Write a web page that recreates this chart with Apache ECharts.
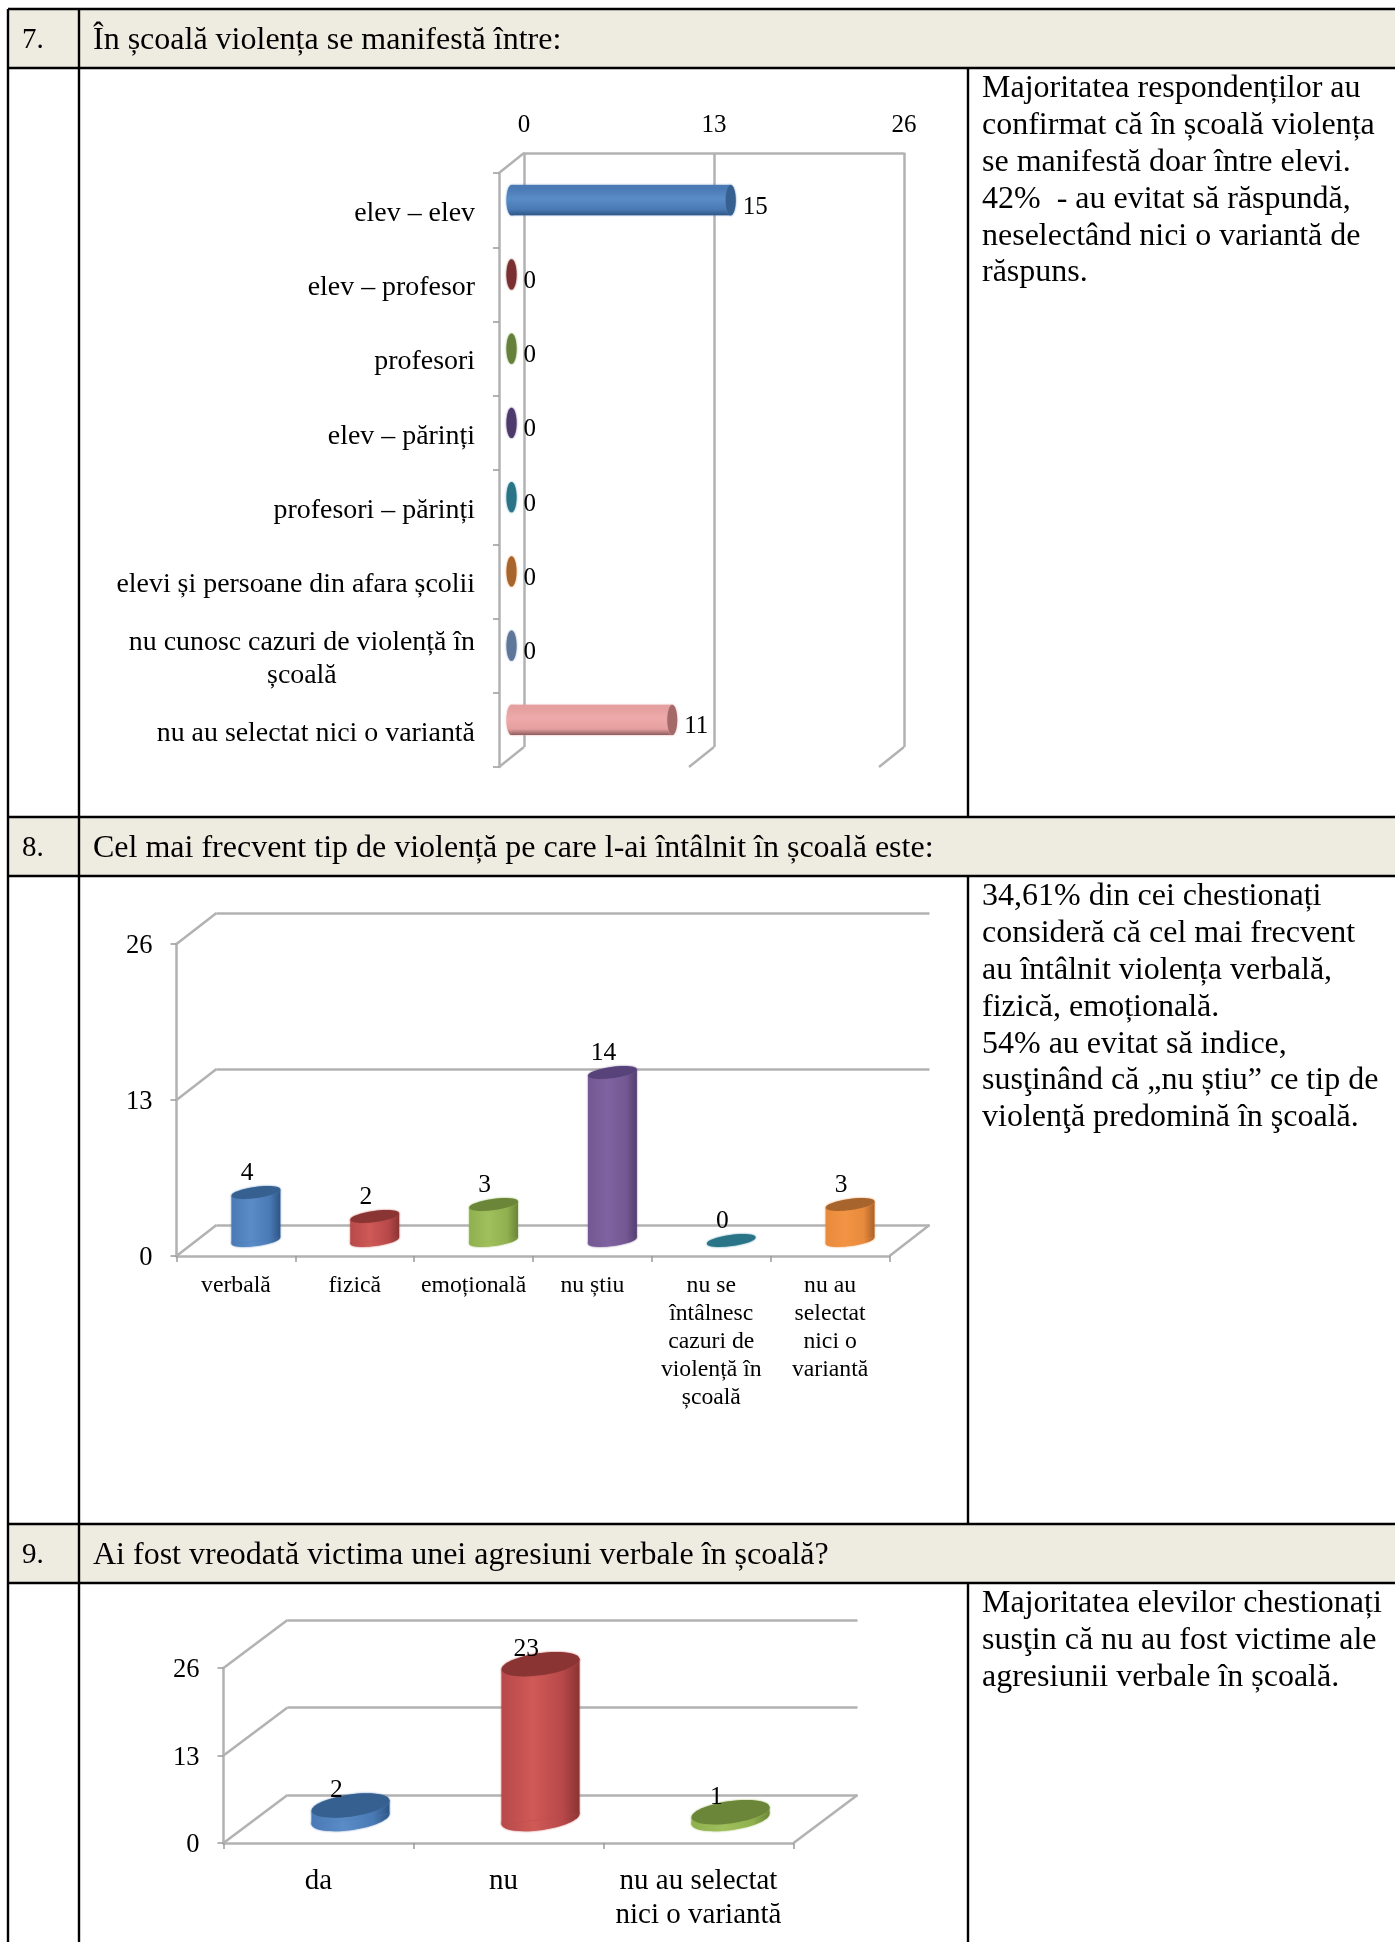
<!DOCTYPE html>
<html><head><meta charset="utf-8">
<style>html,body{margin:0;padding:0;background:#fff}#c{position:absolute;left:0;top:0;width:1395px;height:1942px}</style>
<script src="https://cdn.jsdelivr.net/npm/echarts@6/dist/echarts.min.js"></script>
</head><body><div id="c"></div>
<script>
// ---------- data ----------
const valueTicks = [0, 13, 26];

const q7Categories = ['elev – elev', 'elev – profesor', 'profesori', 'elev – părinți', 'profesori – părinți', 'elevi și persoane din afara școlii', 'nu cunosc cazuri de violență în\nșcoală', 'nu au selectat nici o variantă'];
const q7Values = [15, 0, 0, 0, 0, 0, 0, 11];

const q8Categories = ['verbală', 'fizică', 'emoțională', 'nu știu', 'nu se\nîntâlnesc\ncazuri de\nviolență în\nșcoală', 'nu au\nselectat\nnici o\nvariantă'];
const q8Values = [4, 2, 3, 14, 0, 3];

const q9Categories = ['da', 'nu', 'nu au selectat\nnici o variantă'];
const q9Values = [2, 23, 1];

const headers = [
  ['7.', 'În școală violența se manifestă între:'],
  ['8.', 'Cel mai frecvent tip de violență pe care l-ai întâlnit în școală este:'],
  ['9.', 'Ai fost vreodată victima unei agresiuni verbale în școală?']
];
const notes = [
  ['Majoritatea respondenților au', 'confirmat că în școală violența', 'se manifestă doar între elevi.', '42%  - au evitat să răspundă,', 'neselectând nici o variantă de', 'răspuns.'],
  ['34,61% din cei chestionați', 'consideră că cel mai frecvent', 'au întâlnit violența verbală,', 'fizică, emoțională.', '54% au evitat să indice,', 'susţinând că „nu știu” ce tip de', 'violenţă predomină în şcoală.'],
  ['Majoritatea elevilor chestionați', 'susţin că nu au fost victime ale', 'agresiunii verbale în școală.']
];

// ---------- colours: [light, mid, dark, cap] ----------
const blue = ['#5a8cc8', '#4a7ab5', '#2f5585', '#35608f'];
const red = ['#cf5a56', '#b8484a', '#8a3432', '#8a3533'];
const green = ['#9fc05c', '#8fb04e', '#6a8438', '#6b8539'];
const purple = ['#7f62a0', '#735893', '#533f70', '#57427a'];
const teal = ['#3a93aa', '#31859c', '#226478', '#2a7488'];
const orange = ['#f29443', '#e88a3c', '#a9622a', '#a8642d'];
const slate = ['#7f97bd', '#6d86ad', '#4f6690', '#5d7699'];
const pink = ['#eeaaaa', '#e59f9f', '#8c5c5c', '#a46a6a'];

const q7Colors = [blue, ['#8c3a38', '#8c3a38', '#6d2a2a', '#7a3030'], ['#6e8a3a', '#6e8a3a', '#566d2c', '#64803a'], ['#57427a', '#57427a', '#42315f', '#4d3a6d'], teal, orange, slate, pink];
const q8Colors = [blue, red, green, purple, teal, orange];
const q9Colors = [blue, red, green];

// ---------- layout ----------
const SERIF = '"Liberation Serif","Times New Roman",serif';
const LINE = '#b2b2b2';
const charts = [
  { horizontal: true, back: { left: 524, top: 153, width: 380, height: 594 }, shift: [-25, 20], categories: q7Categories, values: q7Values, colors: q7Colors, catFont: 27.9, catLine: 33, catPad: [7, 0, 0, 0], numFont: 25, catMargin: 24, tilt: 0, ratio: 0.33 },
  { horizontal: false, back: { left: 216.5, top: 913, width: 713, height: 312 }, shift: [-40, 31], categories: q8Categories, values: q8Values, colors: q8Colors, catFont: 23.7, catLine: 28, catPad: [0, 0, 0, 0], numFont: 26.5, catMargin: 16, tilt: 0.13, ratio: 0.23 },
  { horizontal: false, back: { left: 287.5, top: 1620, width: 570, height: 175 }, shift: [-64, 48], categories: q9Categories, values: q9Values, colors: q9Colors, catFont: 29, catLine: 34, catPad: [0, 0, 0, 0], numFont: 26.5, catMargin: 21, tilt: 0.14, ratio: 0.28, nudged: ['nu'] }
];

const grid = [], xAxis = [], yAxis = [], series = [];
const lineStyle = { color: LINE, width: 2.5 };

charts.forEach(function (ch) {
  const b = ch.back, gBack = grid.length, gFront = gBack + 1;
  grid.push({ left: b.left, top: b.top, width: b.width, height: b.height, containLabel: false });
  grid.push({ left: b.left + ch.shift[0], top: b.top + ch.shift[1], width: b.width, height: b.height, containLabel: false });

  const valBack = { type: 'value', min: 0, max: 26, interval: 13, gridIndex: gBack,
    splitLine: { show: true, lineStyle: lineStyle }, axisTick: { show: false }, axisLine: { show: false }, axisLabel: { show: false } };
  const catBack = { type: 'category', data: ch.categories, gridIndex: gBack, show: false, inverse: ch.horizontal };
  const tokenStyle = { align: 'center', color: '#000', fontFamily: SERIF, fontSize: ch.catFont, lineHeight: ch.catLine };
  const catFront = { type: 'category', data: ch.categories, gridIndex: gFront, inverse: ch.horizontal,
    axisLine: { show: true, lineStyle: lineStyle }, axisTick: { show: true, length: 6, lineStyle: { color: '#9a9a9a', width: 1.5 } },
    splitLine: { show: false },
    axisLabel: { interval: 0, hideOverlap: false, color: '#000', fontFamily: SERIF, fontSize: ch.catFont, lineHeight: ch.catLine, margin: ch.catMargin, padding: ch.catPad,
      formatter: function (v) {
        const tag = (ch.nudged || []).indexOf(v) >= 0 ? 'n' : 'c';
        return v.split('\n').map(function (l) { return '{' + tag + '|' + l + '}'; }).join('\n');
      },
      rich: { c: tokenStyle, n: Object.assign({ padding: [0, 10, 0, 0] }, tokenStyle) } } };
  const valFront = { type: 'value', min: 0, max: 26, interval: 13, gridIndex: gFront, splitLine: { show: false } };

  if (ch.horizontal) {
    valBack.position = 'top';
    valBack.axisLine = { show: true, lineStyle: lineStyle };
    valBack.axisLabel = { show: true, color: '#000', fontFamily: SERIF, fontSize: ch.numFont, margin: 15 };
    valFront.show = false;
    catFront.position = 'left';
    xAxis.push(valBack, valFront);
    yAxis.push(catBack, catFront);
  } else {
    valFront.axisLine = { show: true, onZero: false, lineStyle: lineStyle };
    valFront.axisTick = { show: true, length: 6, lineStyle: { color: '#9a9a9a', width: 1.5 } };
    valFront.axisLabel = { color: '#000', fontFamily: SERIF, fontSize: ch.numFont, margin: 24,
      formatter: '{v|{value}}',
      rich: { v: { color: '#000', fontFamily: SERIF, fontSize: ch.numFont, padding: [5, 0, 0, 0] } } };
    xAxis.push(catBack, catFront);
    yAxis.push(valBack, valFront);
  }

  const axisRef = { xAxisIndex: gBack, yAxisIndex: gBack };

  // perspective edges joining the back wall to the front plane
  series.push(Object.assign({
    type: 'custom', coordinateSystem: 'cartesian2d', silent: true, z: 1,
    data: valueTicks.map(function (v) { return ch.horizontal ? [v, 0] : [0, v]; }),
    renderItem: function (params, api) {
      const rect = params.coordSys, v = api.value(ch.horizontal ? 0 : 1);
      const dx = ch.shift[0], dy = ch.shift[1], kids = [];
      const edge = function (x, y) {
        kids.push({ type: 'line', shape: { x1: x, y1: y, x2: x + dx, y2: y + dy }, style: { stroke: LINE, lineWidth: 2.5 } });
      };
      if (ch.horizontal) {
        const x = api.coord([v, 0])[0];
        edge(x, rect.y + rect.height);
        if (v === 0) edge(x, rect.y);
      } else {
        const y = api.coord([0, v])[1];
        edge(rect.x, y);
        if (v === 0) edge(rect.x + rect.width, y);
      }
      return { type: 'group', children: kids };
    }
  }, axisRef));

  // cylinders
  series.push(Object.assign({
    type: 'custom', coordinateSystem: 'cartesian2d', silent: true, z: 3,
    data: ch.values.map(function (v, i) { return ch.horizontal ? [v, i] : [i, v]; }),
    renderItem: function (params, api) {
      const i = params.dataIndex, c = ch.colors[i], val = ch.values[i];
      const mx = ch.shift[0] / 2, my = ch.shift[1] / 2;
      const kids = [];
      const soft = function (s) { return Object.assign({ shadowBlur: 2, shadowColor: c[1] }, s); };
      if (ch.horizontal) {
        const p0 = api.coord([0, i]), p1 = api.coord([val, i]);
        const ry = api.size([0, 1])[1] * 0.205, rx = ry * ch.ratio;
        const x0 = p0[0] + mx, x1 = p1[0] + mx, y = p0[1] + my;
        const fill = { type: 'linear', x: 0, y: 0, x2: 0, y2: 1, colorStops: [
          { offset: 0, color: c[1] }, { offset: 0.12, color: c[1] }, { offset: 0.45, color: c[0] }, { offset: 0.8, color: c[1] }, { offset: 1, color: c[2] }] };
        if (val > 0) {
          kids.push({ type: 'ellipse', shape: { cx: x0, cy: y, rx: rx, ry: ry }, style: soft({ fill: fill }) });
          kids.push({ type: 'rect', shape: { x: x0, y: y - ry, width: x1 - x0, height: ry * 2 }, style: soft({ fill: fill }) });
        }
        kids.push({ type: 'ellipse', shape: { cx: x1, cy: y, rx: rx, ry: ry }, style: soft({ fill: c[3] }) });
        kids.push({ type: 'text', style: { text: String(val), x: x1 + 12, y: y + 7, fill: '#000', font: ch.numFont + 'px ' + SERIF, align: 'left', verticalAlign: 'middle' } });
      } else {
        const p0 = api.coord([i, 0]), p1 = api.coord([i, val]);
        const rx = api.size([1, 0])[0] * 0.207, ry = rx * ch.ratio;
        const x = p0[0] + mx, yb = p0[1] + my, yt = p1[1] + my;
        const hw = rx * Math.cos(ch.tilt), dy = rx * Math.sin(ch.tilt);
        const fill = { type: 'linear', x: 0, y: 0, x2: 1, y2: 0, colorStops: [
          { offset: 0, color: c[1] }, { offset: 0.4, color: c[0] }, { offset: 0.78, color: c[1] }, { offset: 1, color: c[2] }] };
        if (val > 0) {
          kids.push({ type: 'ellipse', x: x, y: yb, rotation: ch.tilt, shape: { cx: 0, cy: 0, rx: rx, ry: ry }, style: soft({ fill: fill }) });
          kids.push({ type: 'polygon', shape: { points: [[x - hw, yt + dy], [x + hw, yt - dy], [x + hw, yb - dy], [x - hw, yb + dy]] }, style: soft({ fill: fill }) });
        }
        kids.push({ type: 'ellipse', x: x, y: yt, rotation: ch.tilt, shape: { cx: 0, cy: 0, rx: rx, ry: ry }, style: soft({ fill: c[3] }) });
        kids.push({ type: 'text', style: { text: String(val), x: x - rx * 0.36, y: yt - (ch.ratio > 0.25 ? 15 : 19), fill: '#000', font: ch.numFont - 1 + 'px ' + SERIF, align: 'center', verticalAlign: 'middle' } });
      }
      return { type: 'group', children: kids };
    }
  }, axisRef));
});

// ---------- table ----------
const rowTops = [9, 817, 1524];
const rowHeader = 59;
const colA = 8, colB = 79, colC = 968, W = 1395, H = 1942;
const BLACK = { stroke: '#000', lineWidth: 2.4 };
const g = [];
function hline(y) { g.push({ type: 'line', shape: { x1: colA, y1: y, x2: W, y2: y }, style: BLACK, z: 5 }); }
function vline(x, y1, y2) { g.push({ type: 'line', shape: { x1: x, y1: y1, x2: x, y2: y2 }, style: BLACK, z: 5 }); }

rowTops.forEach(function (t, i) {
  g.push({ type: 'rect', shape: { x: colA, y: t, width: W - colA, height: rowHeader }, style: { fill: '#eeece1' }, z: 4 });
  hline(t); hline(t + rowHeader);
  vline(colC, t + rowHeader, i < 2 ? rowTops[i + 1] : H);
  g.push({ type: 'text', style: { text: headers[i][0], x: 22, y: t + 31.5, fill: '#000', font: '29px ' + SERIF, verticalAlign: 'middle' }, z: 6 });
  g.push({ type: 'text', style: { text: headers[i][1], x: 93, y: t + 31.5, fill: '#000', font: '32px ' + SERIF, verticalAlign: 'middle' }, z: 6 });
  notes[i].forEach(function (line, k) {
    g.push({ type: 'text', style: { text: line, x: 982, y: t + rowHeader + 21 + k * 36.8, fill: '#000', font: '32px ' + SERIF, verticalAlign: 'middle' }, z: 6 });
  });
});
vline(colA, rowTops[0], H);
vline(colB, rowTops[0], H);

const chart = echarts.init(document.getElementById('c'), null, { width: W, height: H, renderer: 'canvas' });
chart.setOption({ animation: false, backgroundColor: '#fff', grid: grid, xAxis: xAxis, yAxis: yAxis, series: series, graphic: { elements: g } });
</script></body></html>
